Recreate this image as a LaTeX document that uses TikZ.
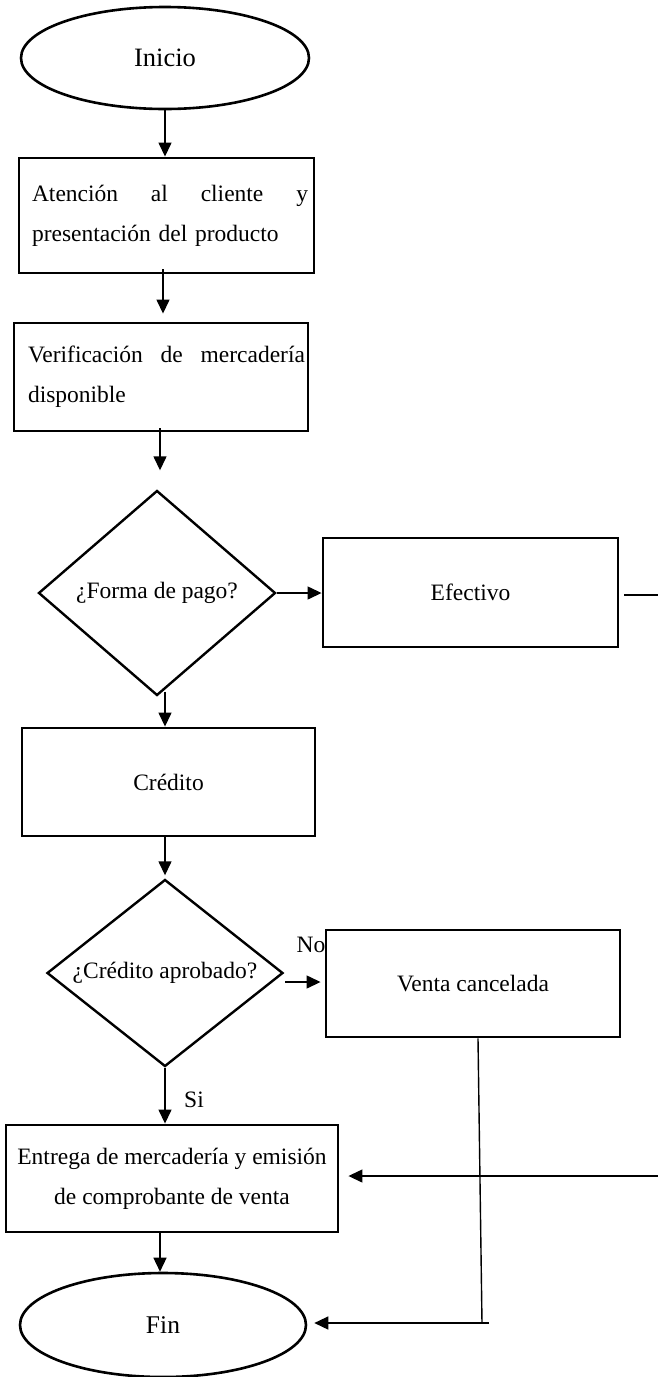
\documentclass[tikz,border=0pt]{standalone}
\usepackage{fontspec}
\setmainfont{Liberation Serif}
\usetikzlibrary{shapes.geometric,arrows.meta}
\begin{document}
\begin{tikzpicture}[x=1pt,y=-1pt,
  every node/.style={font=\fontsize{23.5}{40}\selectfont, inner sep=0pt},
  procbox/.style={draw, line width=2.9pt, rectangle},
  term/.style={draw, ellipse, line width=2.6pt},
  decision/.style={draw, diamond, line width=2.4pt},
  conn/.style={line width=1.4pt},
  arr/.style={conn, -{Triangle[length=14pt,width=13pt]}}
]
\useasboundingbox (0,0) rectangle (658,1377);

\node[term, minimum width=288, minimum height=102, font=\fontsize{26.5}{30}\selectfont] (inicio) at (165,58) {Inicio};
\node[procbox, minimum width=295, minimum height=115, text width=283, align=left] (b1) at (166.5,215.5)
  {\hbox to 283pt{\hskip 7pt Atención\hfill al\hfill cliente\hfill y}\\\hspace*{7pt}presentación del producto};
\node[procbox, minimum width=294, minimum height=108, text width=288, align=left] (b2) at (161,377)
  {\hbox to 288pt{\hskip 11pt Verificación\hfill de\hfill mercadería}\\\hspace*{11pt}disponible};
\node[decision, minimum width=237, minimum height=205, aspect=1.156] (d1) at (157,593) {¿Forma de pago?};
\node[procbox, minimum width=295, minimum height=109] (ef) at (470.5,592.5) {Efectivo};
\node[procbox, minimum width=293, minimum height=108] (cr) at (168.5,782) {Crédito};
\node[decision, minimum width=236, minimum height=187, aspect=1.26] (d2) at (165,973) {¿Crédito aprobado?};
\node[procbox, minimum width=294, minimum height=107] (vc) at (473,983.5) {Venta cancelada};
\node[procbox, minimum width=332, minimum height=107, align=center] (en) at (172,1178.5)
  {Entrega de mercadería y emisión\\de comprobante de venta};
\node[term, minimum width=286, minimum height=104, font=\fontsize{25.5}{30}\selectfont] (fin) at (163,1325) {Fin};

\node (no) at (311,945) {No};
\node (si) at (194,1100) {Si};

\draw[arr] (inicio.south) -- (inicio.south |- b1.north);
\draw[arr] ([xshift=-3.5pt,yshift=5pt]b1.south) -- ([xshift=2pt,yshift=8pt]b2.north);
\draw[arr] ([xshift=-1pt,yshift=4pt]b2.south) -- ([xshift=3pt,yshift=19pt]d1.north);
\draw[arr] (d1.east) -- (d1.east -| ef.west);
\draw[arr] ([xshift=8pt,yshift=5pt]d1.south) -- ([xshift=-3.5pt]cr.north);
\draw[arr] ([xshift=-3.5pt]cr.south) -- ([yshift=3pt]d2.north);
\draw[arr] ([xshift=1pt,yshift=-9pt]d2.east) -- ([xshift=-4pt,yshift=1.5pt]vc.west);
\draw[arr] (d2.south) -- (d2.south |- en.north);
\draw[arr] ([xshift=-12pt]en.south) -- ([xshift=-3pt]fin.north);

\coordinate (r1) at (658,595);
\draw[conn] ([xshift=5pt,yshift=-2.5pt]ef.east) -- (r1);
\coordinate (r2) at (658,1176);
\coordinate (r2e) at (r2 -| en.east);
\draw[arr] (r2) -- ([xshift=9pt]r2e);
\coordinate (v1) at (482,1323);
\draw[conn] ([xshift=5pt]vc.south) -- (v1);
\coordinate (v2) at (489,1323);
\coordinate (fe) at (v2 -| fin.east);
\draw[arr] (v2) -- ([xshift=7pt]fe);
\end{tikzpicture}
\end{document}
